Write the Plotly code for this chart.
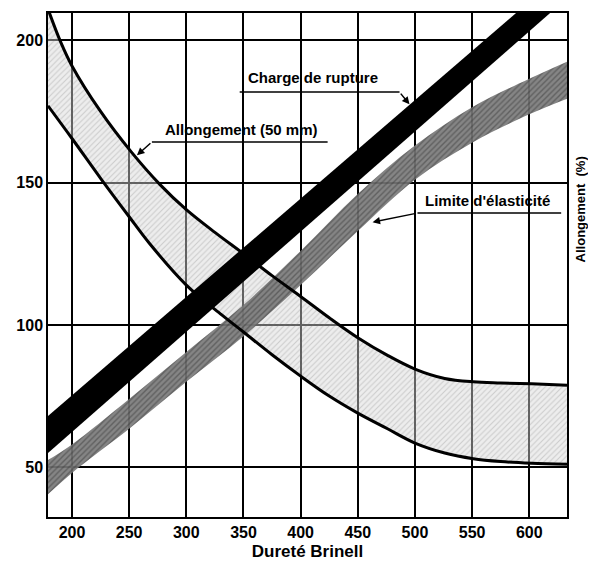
import plotly.graph_objects as go

# ---- data ----
# Allongement (50 mm) band, upper and lower boundary curves
allong_x = [179, 190, 200, 225, 252, 277, 300, 325, 350, 375, 400, 425, 450, 476, 500, 526, 551, 575, 602, 633]
allong_upper = [211, 199.5, 191, 175, 160.7, 149.3, 140.5, 132.5, 125, 117.3, 110, 102.5, 95.5, 89.3, 84.5, 81.2, 80, 79.6, 79.3, 78.8]
allong_lower_x = [179, 200, 225, 250, 268, 300, 331, 350, 375, 400, 425, 450, 476, 500, 526, 551, 575, 602, 633]
allong_lower = [177, 165.5, 151.5, 138, 128.5, 114, 103.5, 97.5, 89.5, 82, 75, 69, 63.5, 58.5, 55, 53, 52, 51.4, 51]

# Limite d'élasticité band
elast_x = [179, 200, 250, 300, 350, 400, 450, 500, 550, 600, 633]
elast_upper = [52.5, 58, 74, 90.5, 107, 126, 146, 163, 176.5, 186.5, 192.5]
elast_lower = [40.5, 48, 63.5, 80, 96, 114, 133, 151, 164, 174, 179.5]

# Charge de rupture band
rupt_x = [179, 633]
rupt_upper = [68, 225]
rupt_lower = [55, 214.8]

x_ticks = [200, 250, 300, 350, 400, 450, 500, 550, 600]
y_ticks = [50, 100, 150, 200]

FONT = "Liberation Sans, Arial, sans-serif"

fig = go.Figure()

# Allongement fill
fig.add_trace(go.Scatter(x=allong_lower_x, y=allong_lower, mode="lines", line=dict(width=0, shape="spline"),
                         hoverinfo="skip", showlegend=False))
fig.add_trace(go.Scatter(x=allong_x, y=allong_upper, mode="lines", line=dict(width=0, shape="spline"),
                         fill="tonexty", fillcolor="rgba(200,200,200,0.5)",
                         fillpattern=dict(shape="/", fgcolor="rgba(110,110,110,0.55)",
                                          bgcolor="rgba(215,215,215,0.45)", size=4, solidity=0.25),
                         hoverinfo="skip", showlegend=False))

# Limite d'élasticité band
fig.add_trace(go.Scatter(x=elast_x, y=elast_lower, mode="lines", line=dict(width=0, shape="spline"),
                         hoverinfo="skip", showlegend=False))
fig.add_trace(go.Scatter(x=elast_x, y=elast_upper, mode="lines", line=dict(width=0, shape="spline"),
                         fill="tonexty", fillcolor="rgba(100,100,100,0.9)",
                         fillpattern=dict(shape="/", fgcolor="rgba(50,50,50,0.9)",
                                          bgcolor="rgba(120,120,120,0.9)", size=4, solidity=0.35),
                         hoverinfo="skip", showlegend=False))

# Charge de rupture band
fig.add_trace(go.Scatter(x=rupt_x, y=rupt_lower, mode="lines", line=dict(width=0, color="black"),
                         hoverinfo="skip", showlegend=False))
fig.add_trace(go.Scatter(x=rupt_x, y=rupt_upper, mode="lines", line=dict(width=0, color="black"),
                         fill="tonexty", fillcolor="black", hoverinfo="skip", showlegend=False))

# Allongement boundary curves
fig.add_trace(go.Scatter(x=allong_x, y=allong_upper, mode="lines",
                         line=dict(width=3, color="black", shape="spline"), hoverinfo="skip", showlegend=False))
fig.add_trace(go.Scatter(x=allong_lower_x, y=allong_lower, mode="lines",
                         line=dict(width=3, color="black", shape="spline"), hoverinfo="skip", showlegend=False))

labels = [
    # text, text x, text y, underline x0, x1, y, arrow tip x, y
    ("Charge de rupture", 410.5, 186.8, 346.7, 486.5, 181.8, 495.2, 177.5),
    ("Allongement (50 mm)", 348.5, 168.6, 269.9, 423.6, 164.3, 256.8, 159.6),
    ("Limite d'élasticité", 563.3, 143.6, 502.2, 627.9, 139.3, 462.9, 136.1),
]
for text, tx, ty, ux0, ux1, uy, ax_, ay_ in labels:
    fig.add_annotation(x=tx, y=ty, text=text, showarrow=False, xref="x", yref="y",
                       font=dict(family=FONT, size=15, color="black", weight="bold"))
    fig.add_shape(type="line", x0=ux0, x1=ux1, y0=uy, y1=uy, xref="x", yref="y",
                  line=dict(color="black", width=1.5))
    start_x = ux1 if ax_ > ux1 else ux0
    fig.add_annotation(x=ax_, y=ay_, ax=start_x, ay=uy, axref="x", ayref="y", xref="x", yref="y",
                       text="", showarrow=True, arrowhead=2, arrowsize=1, arrowwidth=1.5, arrowcolor="black")

fig.add_annotation(x=1.045, y=0.61, xref="paper", yref="paper", text="Allongement  (%)",
                   textangle=-90, showarrow=False,
                   font=dict(family=FONT, size=13, color="black", weight="bold"))

axis_common = dict(showgrid=True, gridcolor="black", gridwidth=1.5, showline=True, linecolor="black",
                   linewidth=1.5, mirror=True, zeroline=False, ticks="", automargin=False,
                   tickfont=dict(family=FONT, size=16, color="black", weight="bold"))
fig.update_xaxes(range=[179, 633], tickvals=x_ticks,
                 title=dict(text="Dureté Brinell", font=dict(family=FONT, size=17, color="black", weight="bold"),
                            standoff=10), **axis_common)
fig.update_yaxes(range=[32.5, 209.6], tickvals=y_ticks, **axis_common)

# page body has an 8px margin, so the figure is sized to fit inside the 596x561 window
fig.update_layout(width=588, height=553, margin=dict(l=40, r=29, t=5, b=44),
                  paper_bgcolor="white", plot_bgcolor="white", showlegend=False)

fig.write_html("out.html")
